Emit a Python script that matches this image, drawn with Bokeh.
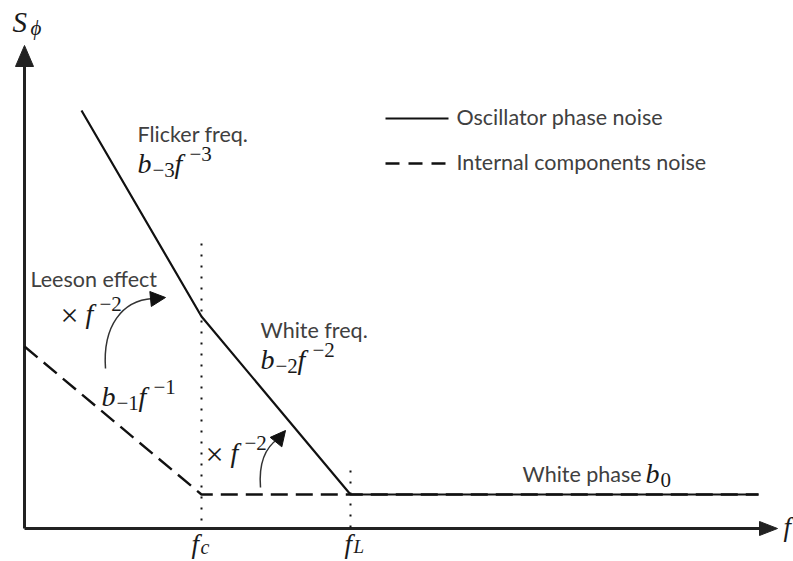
from bokeh.plotting import figure
from bokeh.models import Range1d, Label, Arrow, NormalHead
from bokeh.embed import file_html
from bokeh.resources import INLINE

# ---- schematic data (frequency / PSD in drawing units) ----
f_osc = [81, 201, 350, 758]
S_osc = [110, 316, 494, 494]
f_int = [24, 201, 350, 758]
S_int = [346, 494, 494, 494]
f_c = 201
f_L = 350
legend_labels = ["Oscillator phase noise", "Internal components noise"]
region_labels = ["Flicker freq.", "White freq.", "Leeson effect", "White phase"]

W, H = 793, 561
p = figure(width=W, height=H, output_backend="svg", toolbar_location=None,
           x_range=Range1d(0, W), y_range=Range1d(H, 0),
           min_border=0)
p.axis.visible = False
p.grid.visible = False
p.outline_line_color = None
p.background_fill_color = "white"

AX = "#222222"
LN = "#111111"
TXT = "#404040"
MATH = "#1a1a1a"

# axes
x0_ax, y0_ax = 24, 528
p.line([x0_ax, x0_ax], [y0_ax, 62], line_width=3, line_color=AX)
p.line([x0_ax, 762], [y0_ax, y0_ax], line_width=3, line_color=AX)
p.patch([x0_ax - 9, x0_ax + 9, x0_ax], [66, 66, 45], fill_color=AX, line_color=AX)
p.patch([759, 759, 777], [y0_ax - 7, y0_ax + 7, y0_ax], fill_color=AX, line_color=AX)

# dotted markers
p.line([f_c, f_c], [243, y0_ax], line_width=2, line_dash="2 9", line_color=LN)
p.line([f_L, f_L], [470, y0_ax], line_width=2, line_dash="2 9", line_color=LN)

# curves
p.line(f_osc, S_osc, line_width=2.2, line_color=LN)
p.line(f_int, S_int, line_width=2.4, line_color=LN, line_dash="17 8")

# legend
p.line([385, 448], [118, 118], line_width=2.2, line_color=LN)
p.line([385, 448], [163, 163], line_width=2.4, line_color=LN, line_dash="14 9")

DY = -9  # baseline correction for the svg text placement


def lab(x, y, text, size, font="Lato", style="normal", color=TXT):
    p.add_layout(Label(x=x, y=y + DY, text=text, text_font=font,
                       text_font_size=f"{size}px", text_font_style=style,
                       text_color=color, text_align="left",
                       text_baseline="alphabetic"))


LS = 21.5
lab(456, 125, legend_labels[0], LS)
lab(456, 170, legend_labels[1], LS)
lab(137, 142, region_labels[0], LS)
lab(260, 338, region_labels[1], LS)
lab(30, 287, region_labels[2], LS)
lab(522, 482, region_labels[3], LS)

MF = "Liberation Serif"


def mlab(x, y, text, size, style="italic"):
    lab(x, y, text, size, font=MF, style=style, color=MATH)


# S_phi
mlab(12, 30, "S", 29)
mlab(30, 36, "ϕ", 21)
# f axis label
mlab(783, 535, "f", 27)
# f_c, f_L
mlab(191, 552, "f", 27)
mlab(200, 555, "c", 20)
mlab(344, 552, "f", 27)
mlab(353, 555, "L", 19)

SUB = 21
# b_-3 f^-3
mlab(137, 172, "b", 28)
mlab(152, 178, "−3", SUB, "normal")
mlab(174, 172, "f", 28)
mlab(189, 162, "−3", SUB, "normal")
# b_-2 f^-2
mlab(260, 368, "b", 28)
mlab(275, 374, "−2", SUB, "normal")
mlab(297, 368, "f", 28)
mlab(312, 358, "−2", SUB, "normal")
# b_-1 f^-1
mlab(101, 405, "b", 28)
mlab(116, 411, "−1", SUB, "normal")
mlab(138, 405, "f", 28)
mlab(153, 395, "−1", SUB, "normal")
# x f^-2 (Leeson)
mlab(60, 323, "×", 32, "normal")
mlab(85, 322, "f", 28)
mlab(99, 312, "−2", SUB, "normal")
# x f^-2 (lower)
mlab(205, 462, "×", 32, "normal")
mlab(230, 461, "f", 28)
mlab(244, 451, "−2", SUB, "normal")
# b_0
mlab(645, 482, "b", 28)
mlab(660, 488, "0", SUB, "normal")

# curved arrows
p.bezier(x0=[105], y0=[368], x1=[152], y1=[298],
         cx0=[102], cy0=[325], cx1=[122], cy1=[300],
         line_width=1.5, line_color="#333333")
p.add_layout(Arrow(end=NormalHead(size=15, fill_color=LN, line_color=LN),
                   x_start=150, y_start=298.5, x_end=165, y_end=297,
                   line_alpha=0))
p.bezier(x0=[260], y0=[487], x1=[278], y1=[438],
         cx0=[258], cy0=[462], cx1=[266], cy1=[446],
         line_width=1.5, line_color="#333333")
p.add_layout(Arrow(end=NormalHead(size=15, fill_color=LN, line_color=LN),
                   x_start=276, y_start=441, x_end=285, y_end=430,
                   line_alpha=0))

open("out.html", "w").write(file_html(p, INLINE))
